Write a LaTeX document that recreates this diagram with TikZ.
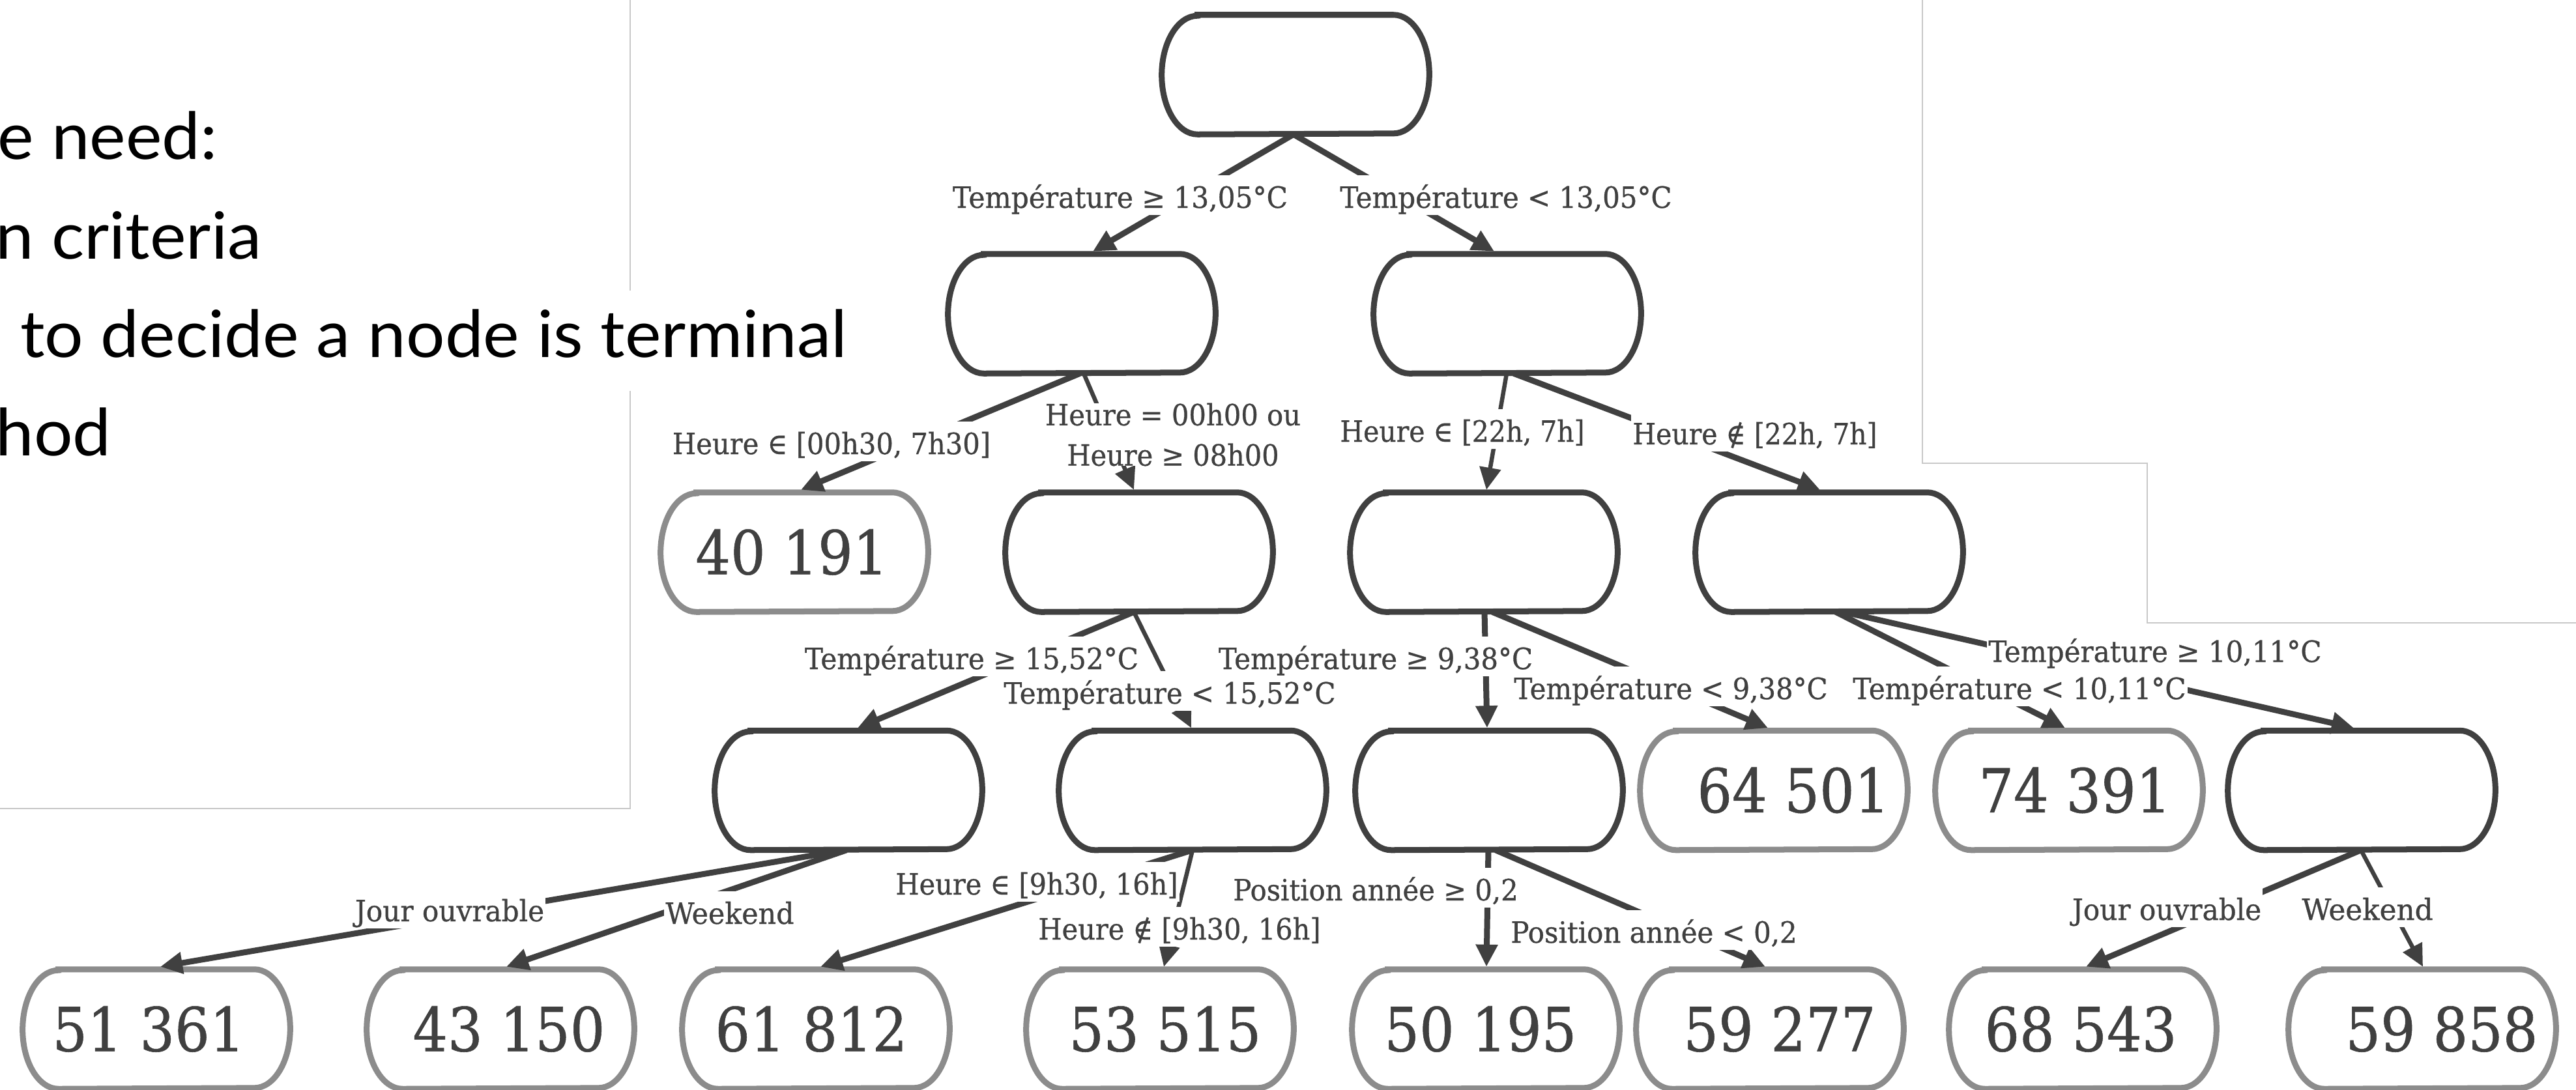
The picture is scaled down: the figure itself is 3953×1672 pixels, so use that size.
\documentclass[tikz,border=0pt]{standalone}
\usepackage{fontspec}
\usepackage{graphicx}
\setmainfont{Lato}
\newfontfamily\treefont{DejaVu Serif Condensed}[FakeBold=0.6]
\usetikzlibrary{arrows.meta,calc}
\definecolor{dk}{RGB}{64,64,64}
\definecolor{lf}{RGB}{140,140,140}
\definecolor{fr}{RGB}{200,200,200}
\newcommand{\tb}[5]{%
  \node[tnode] (#1) at (#2,#3) {#5};
  \draw[#4] ($(#1.north west)+(0.55cm,0)$) -- ($(#1.north east)+(-0.55cm,0)$)
     arc[start angle=90,end angle=-90,x radius=0.55cm,y radius=0.91cm]
     -- ($(#1.south west)+(0.55cm,0)$)
     arc[start angle=270,end angle=90,x radius=0.55cm,y radius=0.91cm] -- cycle;
}
\newcommand{\num}[2]{\hspace*{#1}\resizebox{2.95cm}{\height}{#2}}
\newcommand{\lab}[5]{\node[lab] (#1) at (#2,#3) {\resizebox{#4cm}{\height}{#5}};}
\newcommand{\wide}[1]{\scalebox{1.05}[1]{#1}}
\tikzset{
  tnode/.style={draw=none, minimum width=4.09cm, minimum height=1.82cm, inner sep=0,
    text=dk, font=\treefont\fontsize{26.5}{30}\selectfont},
  inner/.style={draw=dk, line width=0.09cm},
  leaf/.style={draw=lf, line width=0.09cm},
  conn/.style={draw=dk, line width=0.09cm, -{Triangle[length=0.34cm,width=0.32cm]}},
  thin/.style={conn, line width=0.065cm},
  lab/.style={anchor=base, fill=white, inner xsep=0.02cm, inner ysep=0,
    text height=0.5cm, text depth=0.11cm, text=dk,
    font=\treefont\fontsize{12.8}{17.6}\selectfont},
  slide/.style={anchor=base west, inner sep=0, fill=white, text=black,
    font=\fontsize{28.45}{34}\selectfont},
  frame/.style={draw=fr, line width=0.02cm}
}
\begin{document}
\begin{tikzpicture}[x=0.01cm,y=-0.01cm]
\useasboundingbox (0,0) rectangle (3953,1672);
\clip (0,0) rectangle (3953,1672);
% slide frame edges
\draw[frame] (0,1241) -- (967,1241) -- (967,600);
\draw[frame] (967,446) -- (967,0);
\draw[frame] (2950,0) -- (2950,711) -- (3295,711) -- (3295,956) -- (3953,956);
% slide text
\node[slide] (t1) at (-4,244) {\wide{e need:}};
\node[slide] (t2) at (-7,397) {\wide{n criteria}};
\node[slide] (t3) at (-52,548) {\wide{e to decide a node is terminal}};
\node[slide] (t4) at (-7,699) {\wide{hod}};
% tree nodes
\tb{n0}{1988}{114.5}{inner}{}
\tb{n1a}{1660}{481.5}{inner}{}
\tb{n1b}{2313}{481.5}{inner}{}
\tb{l40}{1219}{847.5}{leaf}{\num{-0.08cm}{40 191}}
\tb{n2b}{1748}{847.5}{inner}{}
\tb{n2c}{2277}{847.5}{inner}{}
\tb{n2d}{2807}{847.5}{inner}{}
\tb{n3a}{1302}{1213}{inner}{}
\tb{n3b}{1830}{1213}{inner}{}
\tb{n3c}{2285}{1213}{inner}{}
\tb{l64}{2722}{1213}{leaf}{\num{0.6cm}{64 501}}
\tb{l74}{3175}{1213}{leaf}{\num{0.18cm}{74 391}}
\tb{n3f}{3624}{1213}{inner}{}
\tb{l51}{240}{1579.5}{leaf}{\num{-0.24cm}{51 361}}
\tb{l43}{768}{1579.5}{leaf}{\num{0.26cm}{43 150}}
\tb{l61}{1252}{1579.5}{leaf}{\num{-0.14cm}{61 812}}
\tb{l53}{1780}{1579.5}{leaf}{\num{0.16cm}{53 515}}
\tb{l50}{2280}{1579.5}{leaf}{\num{-0.16cm}{50 195}}
\tb{l59a}{2716}{1579.5}{leaf}{\num{0.3cm}{59 277}}
\tb{l68}{3196}{1579.5}{leaf}{\num{-0.06cm}{68 543}}
\tb{l59b}{3717}{1579.5}{leaf}{\num{0.6cm}{59 858}}
% connectors
\draw[conn] ($(n0.south)+(-3,0)$) -- ($(n1a.north)+(17,-4)$);
\draw[conn] ($(n0.south)+(-3,0)$) -- ($(n1b.north)+(-20,-4)$);
\draw[conn] ($(n1a.south)+(-3,0)$) -- ($(l40.north)+(10,-4)$);
\draw[thin] ($(n1a.south)+(3,0)$) -- ($(n2b.north)+(-8,-4)$);
\draw[thin] ($(n1b.south)+(-1,0)$) -- ($(n2c.north)+(4,-4)$);
\draw[conn] ($(n1b.south)+(10,0)$) -- ($(n2d.north)+(-14,-4)$);
\draw[conn] ($(n2b.south)+(-8,0)$) -- ($(n3a.north)+(14,-4)$);
\draw[thin] ($(n2b.south)+(-8,0)$) -- ($(n3b.north)+(-2,-4)$);
\draw[conn] ($(n2c.south)+(1,0)$) -- ($(n3c.north)+(-3,-4)$);
\draw[conn] ($(n2c.south)+(13,0)$) -- ($(l64.north)+(-9,-4)$);
\draw[conn] ($(n2d.south)+(10,0)$) -- ($(l74.north)+(-6,-4)$);
\draw[conn] ($(n2d.south)+(22,0)$) -- ($(n3f.north)+(-12,-4)$);
\draw[conn] ($(n3a.south)+(-7,0)$) -- ($(l51.north)+(6,-4)$);
\draw[conn] ($(n3a.south)+(-3,0)$) -- ($(l43.north)+(9,-4)$);
\draw[conn] ($(n3b.south)+(0,0)$) -- ($(l61.north)+(7,-4)$);
\draw[thin] ($(n3b.south)+(0,0)$) -- ($(l53.north)+(6,-4)$);
\draw[conn] ($(n3c.south)+(-1,0)$) -- ($(l50.north)+(1,-4)$);
\draw[conn] ($(n3c.south)+(10,0)$) -- ($(l59a.north)+(-7,-4)$);
\draw[conn] ($(n3f.south)+(-1,0)$) -- ($(l68.north)+(5,-4)$);
\draw[thin] ($(n3f.south)+(-1,0)$) -- ($(l59b.north)+(1,-4)$);
% labels
\lab{e2}{2311}{319}{5.09}{Température < 13,05°C}
\lab{e1}{1719}{319}{5.14}{Température ≥ 13,05°C}
\lab{e3}{1276}{697}{4.88}{Heure ∈ [00h30, 7h30]}
\node[lab, anchor=center, align=center, text height=, text depth=] (e4) at (1800,667)
  {\resizebox{3.92cm}{\height}{Heure = 00h00 ou}\\\resizebox{3.25cm}{\height}{Heure ≥ 08h00}};
\lab{e5}{2244}{678}{3.75}{Heure ∈ [22h, 7h]}
\lab{e6}{2693}{682}{3.75}{Heure ∉ [22h, 7h]}
\lab{e8}{1795}{1080}{5.09}{Température < 15,52°C}
\lab{e7}{1491}{1027}{5.12}{Température ≥ 15,52°C}
\lab{e10}{2564}{1073}{4.81}{Température < 9,38°C}
\lab{e9}{2111}{1027}{4.82}{Température ≥ 9,38°C}
\lab{e12}{3099}{1073}{5.11}{Température < 10,11°C}
\lab{e11}{3307}{1016}{5.11}{Température ≥ 10,11°C}
\lab{e13}{690}{1414}{2.90}{Jour ouvrable}
\lab{e14}{1120}{1418}{1.97}{Weekend}
\lab{e15}{1591}{1373}{4.33}{Heure ∈ [9h30, 16h]}
\lab{e16}{1810}{1442}{4.33}{Heure ∉ [9h30, 16h]}
\lab{e17}{2111}{1382}{4.37}{Position année ≥ 0,2}
\lab{e18}{2538}{1447}{4.39}{Position année < 0,2}
\lab{e19}{3325}{1412}{2.90}{Jour ouvrable}
\lab{e20}{3633}{1412}{2.01}{Weekend}
\end{tikzpicture}
\end{document}
